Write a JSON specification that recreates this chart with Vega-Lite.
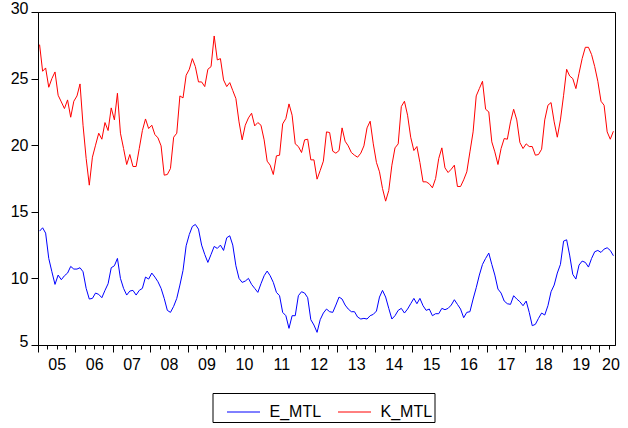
{
  "$schema": "https://vega.github.io/schema/vega-lite/v6.json",
  "width": 577,
  "height": 333,
  "autosize": {"type": "none"},
  "padding": {"left": 38, "top": 12, "right": 13, "bottom": 83},
  "background": "white",
  "config": {
    "view": {"stroke": "black", "strokeWidth": 1},
    "font": "Liberation Sans",
    "axis": {"grid": false, "domainColor": "black", "tickColor": "black", "labelColor": "black", "labelFont": "Liberation Sans", "labelFontSize": 16, "title": null}
  },
  "data": {"values": [
    {"d":"2005-01","E_MTL":13.55,"K_MTL":27.55},{"d":"2005-02","E_MTL":13.8,"K_MTL":25.55},{"d":"2005-03","E_MTL":13.4,"K_MTL":25.8},{"d":"2005-04","E_MTL":11.5,"K_MTL":24.35},{"d":"2005-05","E_MTL":10.5,"K_MTL":25.0},{"d":"2005-06","E_MTL":9.55,"K_MTL":25.5},{"d":"2005-07","E_MTL":10.25,"K_MTL":23.75},{"d":"2005-08","E_MTL":9.9,"K_MTL":23.25},{"d":"2005-09","E_MTL":10.2,"K_MTL":22.75},{"d":"2005-10","E_MTL":10.4,"K_MTL":23.4},{"d":"2005-11","E_MTL":10.9,"K_MTL":22.1},{"d":"2005-12","E_MTL":10.7,"K_MTL":23.3},
    {"d":"2006-01","E_MTL":10.7,"K_MTL":23.7},{"d":"2006-02","E_MTL":10.8,"K_MTL":24.6},{"d":"2006-03","E_MTL":10.5,"K_MTL":21.5},{"d":"2006-04","E_MTL":9.25,"K_MTL":19.0},{"d":"2006-05","E_MTL":8.45,"K_MTL":17.0},{"d":"2006-06","E_MTL":8.5,"K_MTL":19.1},{"d":"2006-07","E_MTL":8.9,"K_MTL":20.0},{"d":"2006-08","E_MTL":8.8,"K_MTL":20.9},{"d":"2006-09","E_MTL":8.55,"K_MTL":20.45},{"d":"2006-10","E_MTL":9.1,"K_MTL":21.7},{"d":"2006-11","E_MTL":9.6,"K_MTL":21.1},{"d":"2006-12","E_MTL":10.8,"K_MTL":22.8},
    {"d":"2007-01","E_MTL":10.95,"K_MTL":21.9},{"d":"2007-02","E_MTL":11.5,"K_MTL":23.9},{"d":"2007-03","E_MTL":10.0,"K_MTL":20.9},{"d":"2007-04","E_MTL":9.25,"K_MTL":19.75},{"d":"2007-05","E_MTL":8.75,"K_MTL":18.55},{"d":"2007-06","E_MTL":9.05,"K_MTL":19.3},{"d":"2007-07","E_MTL":9.1,"K_MTL":18.4},{"d":"2007-08","E_MTL":8.75,"K_MTL":18.4},{"d":"2007-09","E_MTL":9.1,"K_MTL":19.75},{"d":"2007-10","E_MTL":9.25,"K_MTL":21.1},{"d":"2007-11","E_MTL":10.1,"K_MTL":21.97},{"d":"2007-12","E_MTL":9.95,"K_MTL":21.25},
    {"d":"2008-01","E_MTL":10.4,"K_MTL":21.5},{"d":"2008-02","E_MTL":10.1,"K_MTL":20.8},{"d":"2008-03","E_MTL":9.75,"K_MTL":20.55},{"d":"2008-04","E_MTL":9.25,"K_MTL":19.95},{"d":"2008-05","E_MTL":8.5,"K_MTL":17.75},{"d":"2008-06","E_MTL":7.6,"K_MTL":17.8},{"d":"2008-07","E_MTL":7.45,"K_MTL":18.25},{"d":"2008-08","E_MTL":7.9,"K_MTL":20.6},{"d":"2008-09","E_MTL":8.5,"K_MTL":20.9},{"d":"2008-10","E_MTL":9.5,"K_MTL":23.7},{"d":"2008-11","E_MTL":10.6,"K_MTL":23.55},{"d":"2008-12","E_MTL":12.45,"K_MTL":25.25},
    {"d":"2009-01","E_MTL":13.3,"K_MTL":25.7},{"d":"2009-02","E_MTL":13.9,"K_MTL":26.5},{"d":"2009-03","E_MTL":14.05,"K_MTL":25.9},{"d":"2009-04","E_MTL":13.7,"K_MTL":24.75},{"d":"2009-05","E_MTL":12.5,"K_MTL":24.75},{"d":"2009-06","E_MTL":11.8,"K_MTL":24.4},{"d":"2009-07","E_MTL":11.2,"K_MTL":25.7},{"d":"2009-08","E_MTL":11.8,"K_MTL":25.9},{"d":"2009-09","E_MTL":12.4,"K_MTL":28.2},{"d":"2009-10","E_MTL":12.25,"K_MTL":26.4},{"d":"2009-11","E_MTL":12.5,"K_MTL":26.5},{"d":"2009-12","E_MTL":12.1,"K_MTL":24.9},
    {"d":"2010-01","E_MTL":13.05,"K_MTL":24.4},{"d":"2010-02","E_MTL":13.2,"K_MTL":24.7},{"d":"2010-03","E_MTL":12.5,"K_MTL":24.1},{"d":"2010-04","E_MTL":10.95,"K_MTL":23.5},{"d":"2010-05","E_MTL":10.0,"K_MTL":21.75},{"d":"2010-06","E_MTL":9.7,"K_MTL":20.4},{"d":"2010-07","E_MTL":9.8,"K_MTL":21.5},{"d":"2010-08","E_MTL":10.0,"K_MTL":22.05},{"d":"2010-09","E_MTL":9.55,"K_MTL":22.4},{"d":"2010-10","E_MTL":9.25,"K_MTL":21.45},{"d":"2010-11","E_MTL":8.95,"K_MTL":21.7},{"d":"2010-12","E_MTL":9.6,"K_MTL":21.5},
    {"d":"2011-01","E_MTL":10.2,"K_MTL":20.4},{"d":"2011-02","E_MTL":10.55,"K_MTL":18.8},{"d":"2011-03","E_MTL":10.2,"K_MTL":18.5},{"d":"2011-04","E_MTL":9.7,"K_MTL":17.8},{"d":"2011-05","E_MTL":8.95,"K_MTL":19.2},{"d":"2011-06","E_MTL":8.7,"K_MTL":19.25},{"d":"2011-07","E_MTL":7.45,"K_MTL":21.6},{"d":"2011-08","E_MTL":7.2,"K_MTL":22.0},{"d":"2011-09","E_MTL":6.25,"K_MTL":23.1},{"d":"2011-10","E_MTL":7.2,"K_MTL":22.25},{"d":"2011-11","E_MTL":7.2,"K_MTL":20.1},{"d":"2011-12","E_MTL":8.7,"K_MTL":19.9},
    {"d":"2012-01","E_MTL":9.0,"K_MTL":19.45},{"d":"2012-02","E_MTL":8.9,"K_MTL":20.4},{"d":"2012-03","E_MTL":8.55,"K_MTL":20.45},{"d":"2012-04","E_MTL":6.9,"K_MTL":18.9},{"d":"2012-05","E_MTL":6.5,"K_MTL":18.9},{"d":"2012-06","E_MTL":5.95,"K_MTL":17.45},{"d":"2012-07","E_MTL":6.9,"K_MTL":18.1},{"d":"2012-08","E_MTL":7.4,"K_MTL":18.8},{"d":"2012-09","E_MTL":7.7,"K_MTL":21.0},{"d":"2012-10","E_MTL":7.5,"K_MTL":20.95},{"d":"2012-11","E_MTL":7.45,"K_MTL":19.55},{"d":"2012-12","E_MTL":8.0,"K_MTL":19.4},
    {"d":"2013-01","E_MTL":8.6,"K_MTL":19.6},{"d":"2013-02","E_MTL":8.45,"K_MTL":21.3},{"d":"2013-03","E_MTL":8.0,"K_MTL":20.3},{"d":"2013-04","E_MTL":7.7,"K_MTL":19.95},{"d":"2013-05","E_MTL":7.5,"K_MTL":19.45},{"d":"2013-06","E_MTL":7.5,"K_MTL":19.25},{"d":"2013-07","E_MTL":7.1,"K_MTL":19.1},{"d":"2013-08","E_MTL":6.95,"K_MTL":19.4},{"d":"2013-09","E_MTL":7.0,"K_MTL":19.95},{"d":"2013-10","E_MTL":6.95,"K_MTL":21.3},{"d":"2013-11","E_MTL":7.2,"K_MTL":21.8},{"d":"2013-12","E_MTL":7.3,"K_MTL":20.1},
    {"d":"2014-01","E_MTL":7.55,"K_MTL":18.7},{"d":"2014-02","E_MTL":8.6,"K_MTL":18.0},{"d":"2014-03","E_MTL":9.1,"K_MTL":16.75},{"d":"2014-04","E_MTL":8.6,"K_MTL":15.8},{"d":"2014-05","E_MTL":7.75,"K_MTL":16.6},{"d":"2014-06","E_MTL":6.95,"K_MTL":18.5},{"d":"2014-07","E_MTL":7.2,"K_MTL":19.8},{"d":"2014-08","E_MTL":7.6,"K_MTL":20.1},{"d":"2014-09","E_MTL":7.75,"K_MTL":22.9},{"d":"2014-10","E_MTL":7.4,"K_MTL":23.3},{"d":"2014-11","E_MTL":7.7,"K_MTL":22.25},{"d":"2014-12","E_MTL":8.1,"K_MTL":20.6},
    {"d":"2015-01","E_MTL":8.5,"K_MTL":19.6},{"d":"2015-02","E_MTL":8.1,"K_MTL":19.9},{"d":"2015-03","E_MTL":8.5,"K_MTL":18.7},{"d":"2015-04","E_MTL":7.95,"K_MTL":17.25},{"d":"2015-05","E_MTL":7.6,"K_MTL":17.25},{"d":"2015-06","E_MTL":7.7,"K_MTL":17.1},{"d":"2015-07","E_MTL":7.2,"K_MTL":16.8},{"d":"2015-08","E_MTL":7.35,"K_MTL":17.5},{"d":"2015-09","E_MTL":7.35,"K_MTL":19.0},{"d":"2015-10","E_MTL":7.75,"K_MTL":19.8},{"d":"2015-11","E_MTL":7.65,"K_MTL":18.3},{"d":"2015-12","E_MTL":7.75,"K_MTL":17.95},
    {"d":"2016-01","E_MTL":8.0,"K_MTL":18.2},{"d":"2016-02","E_MTL":8.4,"K_MTL":18.5},{"d":"2016-03","E_MTL":8.05,"K_MTL":16.9},{"d":"2016-04","E_MTL":7.7,"K_MTL":16.9},{"d":"2016-05","E_MTL":7.05,"K_MTL":17.4},{"d":"2016-06","E_MTL":7.45,"K_MTL":18.0},{"d":"2016-07","E_MTL":7.5,"K_MTL":19.5},{"d":"2016-08","E_MTL":8.45,"K_MTL":21.0},{"d":"2016-09","E_MTL":9.3,"K_MTL":23.7},{"d":"2016-10","E_MTL":10.25,"K_MTL":24.25},{"d":"2016-11","E_MTL":11.05,"K_MTL":24.8},{"d":"2016-12","E_MTL":11.5,"K_MTL":22.7},
    {"d":"2017-01","E_MTL":11.9,"K_MTL":22.5},{"d":"2017-02","E_MTL":11.05,"K_MTL":20.25},{"d":"2017-03","E_MTL":10.25,"K_MTL":19.5},{"d":"2017-04","E_MTL":9.2,"K_MTL":18.55},{"d":"2017-05","E_MTL":8.9,"K_MTL":19.75},{"d":"2017-06","E_MTL":8.3,"K_MTL":20.5},{"d":"2017-07","E_MTL":8.1,"K_MTL":20.45},{"d":"2017-08","E_MTL":8.05,"K_MTL":21.75},{"d":"2017-09","E_MTL":8.7,"K_MTL":22.7},{"d":"2017-10","E_MTL":8.45,"K_MTL":21.9},{"d":"2017-11","E_MTL":8.25,"K_MTL":20.2},{"d":"2017-12","E_MTL":7.95,"K_MTL":19.75},
    {"d":"2018-01","E_MTL":8.3,"K_MTL":20.1},{"d":"2018-02","E_MTL":7.45,"K_MTL":19.9},{"d":"2018-03","E_MTL":6.45,"K_MTL":19.9},{"d":"2018-04","E_MTL":6.55,"K_MTL":19.25},{"d":"2018-05","E_MTL":7.0,"K_MTL":19.3},{"d":"2018-06","E_MTL":7.4,"K_MTL":19.7},{"d":"2018-07","E_MTL":7.25,"K_MTL":21.9},{"d":"2018-08","E_MTL":7.95,"K_MTL":23.0},{"d":"2018-09","E_MTL":9.0,"K_MTL":23.2},{"d":"2018-10","E_MTL":9.5,"K_MTL":21.75},{"d":"2018-11","E_MTL":10.4,"K_MTL":20.6},{"d":"2018-12","E_MTL":11.05,"K_MTL":21.9},
    {"d":"2019-01","E_MTL":12.8,"K_MTL":23.75},{"d":"2019-02","E_MTL":12.9,"K_MTL":25.7},{"d":"2019-03","E_MTL":11.75,"K_MTL":25.2},{"d":"2019-04","E_MTL":10.3,"K_MTL":25.0},{"d":"2019-05","E_MTL":9.95,"K_MTL":24.25},{"d":"2019-06","E_MTL":11.0,"K_MTL":25.4},{"d":"2019-07","E_MTL":11.3,"K_MTL":26.5},{"d":"2019-08","E_MTL":11.2,"K_MTL":27.35},{"d":"2019-09","E_MTL":10.85,"K_MTL":27.35},{"d":"2019-10","E_MTL":11.5,"K_MTL":26.8},{"d":"2019-11","E_MTL":12.0,"K_MTL":25.9},{"d":"2019-12","E_MTL":12.1,"K_MTL":24.8},
    {"d":"2020-01","E_MTL":11.95,"K_MTL":23.3},{"d":"2020-02","E_MTL":12.2,"K_MTL":23.0},{"d":"2020-03","E_MTL":12.3,"K_MTL":21.0},{"d":"2020-04","E_MTL":12.1,"K_MTL":20.45},{"d":"2020-05","E_MTL":11.7,"K_MTL":21.05}
  ]},
  "transform": [{"fold": ["E_MTL", "K_MTL"], "as": ["series", "value"]}],
  "mark": {"type": "line", "strokeWidth": 1},
  "encoding": {
    "x": {
      "field": "d", "type": "temporal", "timeUnit": "utcyearmonth", "bandPosition": 0.5,
      "scale": {"type": "utc", "domain": [{"year": 2005, "month": 1, "date": 1, "utc": true}, {"year": 2020, "month": 6, "date": 1, "utc": true}]},
      "axis": {
        "tickCount": {"interval": "month", "step": 3},
        "tickSize": {"condition": {"test": "utcmonth(datum.value) === 0", "value": 7}, "value": 4},
        "labelExpr": "utcmonth(datum.value) === 0 ? utcFormat(datum.value, '%y') : ''",
        "labelOffset": {"condition": {"test": "utcyear(datum.value) === 2020", "value": 11}, "value": 18.75},
        "labelFlush": false, "labelOverlap": false, "labelBound": false, "labelPadding": 4
      }
    },
    "y": {
      "field": "value", "type": "quantitative",
      "scale": {"domain": [5, 30], "nice": false, "zero": false},
      "axis": {
        "values": [5, 10, 15, 20, 25, 30], "tickSize": 7, "labelPadding": 3,
        "labelOffset": {"condition": {"test": "datum.value === 5 || datum.value === 30", "value": -4}, "value": 0},
        "labelFlush": false, "labelOverlap": false, "labelBound": false
      }
    },
    "color": {
      "field": "series", "type": "nominal",
      "scale": {"domain": ["E_MTL", "K_MTL"], "range": ["#0000FF", "#FF0000"]},
      "legend": {
        "orient": "none", "legendX": 174.5, "legendY": 381, "direction": "horizontal", "title": null,
        "strokeColor": "black", "fillColor": "white", "padding": 2,
        "symbolType": "stroke", "symbolSize": 1089, "symbolStrokeWidth": 1, "symbolOffset": 12,
        "labelOffset": 9, "columnPadding": 4, "labelFontSize": 16, "labelColor": "black", "labelFont": "Liberation Sans"
      }
    }
  }
}
